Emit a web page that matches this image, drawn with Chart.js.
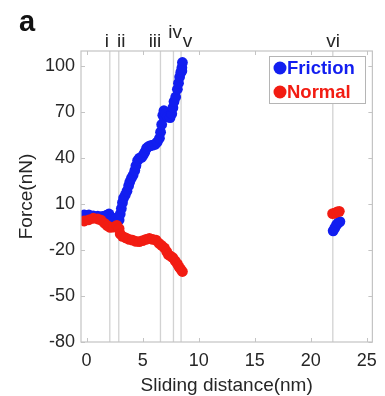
<!DOCTYPE html>
<html>
<head>
<meta charset="utf-8">
<script src="https://cdn.jsdelivr.net/npm/chart.js@4.4.1/dist/chart.umd.min.js"></script>
<style>
  html, body { margin: 0; padding: 0; background: #fff; }
  #wrap { width: 385px; height: 396px; position: relative; }
</style>
</head>
<body>
<div id="wrap"><canvas id="forceChart"></canvas></div>
<script>
// values
const frictionX = [-0.2, 0.2, 0.6, 1.0, 1.4, 1.8, 2.0, 2.3, 2.6, 2.9, 3.0, 3.1, 3.2, 3.3, 3.45, 3.6, 3.75, 3.85, 4.0, 4.15, 4.3, 4.4, 4.55, 4.7, 4.9, 5.05, 5.2, 5.35, 5.5, 5.7, 5.9, 6.1, 6.3, 6.5, 6.6, 6.7, 6.8, 6.9, 7.05, 7.25, 7.45, 7.6, 7.7, 7.8, 7.95, 8.1, 8.2, 8.3, 8.4, 8.5, 8.55, 8.5, 22.0, 22.15, 22.3, 22.45, 22.6];
const frictionY = [3.0, 3.0, 2.4, 2.2, 2.0, 2.8, 3.6, 1.0, 0.5, -0.3, 3.5, 7.2, 11, 14, 16, 18.5, 22, 24.5, 27, 29, 32, 35, 38.5, 40, 40.5, 42, 44, 46.5, 47.5, 48.2, 48.5, 49, 50.5, 53, 57, 62, 68, 71, 69, 67, 66.5, 69, 73, 77, 80, 85, 89, 93, 96, 99, 102.5, 97, -7.4, -5.5, -3.5, -2.2, -1.4];

const normalX = [-0.2, 0.2, 0.6, 1.0, 1.3, 1.6, 1.85, 2.1, 2.4, 2.7, 2.9, 3.0, 3.2, 3.5, 3.8, 4.1, 4.4, 4.7, 5.0, 5.3, 5.6, 5.9, 6.2, 6.45, 6.7, 6.95, 7.15, 7.3, 7.5, 7.7, 7.9, 8.1, 8.25, 8.4, 8.55, 21.95, 22.15, 22.35, 22.55];
const normalY = [-1.0, -0.2, 0.8, 0.3, -0.5, -2.5, -4, -5.2, -5, -3.8, -6, -9.5, -11, -12, -13, -13.5, -14.3, -14.5, -13.8, -13, -12.3, -13, -13.5, -15.5, -17, -18.6, -21, -23, -24, -25, -27, -29, -31, -32.5, -34, 3.8, 4.2, 4.9, 5.3];

const markerX = [2.07, 2.87, 6.59, 7.75, 8.43, 21.97];
const markerNames = ['i', 'ii', 'iii', 'iv', 'v', 'vi'];
const markerLabelX = [1.8, 3.1, 6.1, 7.9, 9.0, 22.0];

const xTicks = [0, 5, 10, 15, 20, 25];
const yTicks = [-80, -50, -20, 10, 40, 70, 100];

const seriesNames = ['Friction', 'Normal'];
const seriesColors = ['rgb(18,30,240)', 'rgb(242,28,18)'];

const FONT = '"Liberation Sans", Arial, Helvetica, sans-serif';
const TEXT = '#262626';

function toPoints(xs, ys) {
  return xs.map((x, i) => ({ x, y: ys[i] }));
}

function markerLines() {
  return markerX.map((x) => ({
    type: 'line',
    data: [{ x, y: -80 }, { x, y: 110 }],
    borderColor: '#d2d2d2',
    borderWidth: 1.3,
    pointRadius: 0,
    order: 10,
  }));
}

// MATLAB-like box, inward ticks, roman labels, panel letter and inside legend
const decorPlugin = {
  id: 'decor',
  beforeDatasetsDraw(chart) {
    const { ctx, chartArea: a, scales } = chart;
    ctx.save();
    ctx.strokeStyle = '#c4c4c4';
    ctx.lineWidth = 1;
    ctx.beginPath();
    xTicks.forEach((t) => {
      const px = Math.round(scales.x.getPixelForValue(t)) + 0.5;
      ctx.moveTo(px, a.bottom); ctx.lineTo(px, a.bottom - 4);
      ctx.moveTo(px, a.top); ctx.lineTo(px, a.top + 4);
    });
    yTicks.forEach((t) => {
      const py = Math.round(scales.y.getPixelForValue(t)) + 0.5;
      ctx.moveTo(a.left, py); ctx.lineTo(a.left + 4, py);
      ctx.moveTo(a.right, py); ctx.lineTo(a.right - 4, py);
    });
    ctx.stroke();
    ctx.restore();
  },
  afterDraw(chart) {
    const { ctx, chartArea: a, scales } = chart;
    ctx.save();
    ctx.strokeStyle = '#c4c4c4';
    ctx.lineWidth = 1.2;
    ctx.strokeRect(a.left, a.top, a.right - a.left, a.bottom - a.top);

    ctx.fillStyle = TEXT;
    ctx.font = '19px ' + FONT;
    ctx.textAlign = 'center';
    ctx.textBaseline = 'alphabetic';
    markerNames.forEach((name, i) => {
      const px = scales.x.getPixelForValue(markerLabelX[i]);
      ctx.fillText(name, px, name === 'iv' ? 38 : 47);
    });

    ctx.font = 'bold 29px ' + FONT;
    ctx.textAlign = 'left';
    ctx.fillStyle = '#111';
    ctx.fillText('a', 19, 31);

    // legend box
    const lx = 269, ly = 56, lw = 96, lh = 47;
    ctx.fillStyle = '#fff';
    ctx.fillRect(lx, ly, lw, lh);
    ctx.strokeStyle = '#b5b5b5';
    ctx.lineWidth = 1;
    ctx.strokeRect(lx + 0.5, ly + 0.5, lw, lh);
    ctx.font = 'bold 18.5px ' + FONT;
    ctx.textBaseline = 'middle';
    seriesNames.forEach((name, i) => {
      const cy = ly + 12 + i * 24;
      ctx.fillStyle = seriesColors[i];
      ctx.beginPath();
      ctx.arc(lx + 11, cy, 6.5, 0, Math.PI * 2);
      ctx.fill();
      ctx.fillText(name, lx + 18, cy + 1);
    });
    ctx.restore();
  },
};

const ctx = document.getElementById('forceChart');

new Chart(ctx, {
  type: 'scatter',
  data: {
    datasets: [
      {
        label: seriesNames[0],
        data: toPoints(frictionX, frictionY),
        backgroundColor: seriesColors[0],
        borderWidth: 0,
        pointRadius: 5.4,
        order: 2,
      },
      {
        label: seriesNames[1],
        data: toPoints(normalX, normalY),
        backgroundColor: seriesColors[1],
        borderWidth: 0,
        pointRadius: 5.4,
        order: 1,
      },
      ...markerLines(),
    ],
  },
  options: {
    responsive: true,
    maintainAspectRatio: false,
    animation: false,
    layout: { padding: { top: 51, right: 11, left: 0, bottom: 0 } },
    plugins: {
      legend: { display: false },
      tooltip: { enabled: false },
    },
    scales: {
      x: {
        type: 'linear',
        min: -0.5,
        max: 25.5,
        afterBuildTicks: (s) => { s.ticks = xTicks.map((v) => ({ value: v })); },
        afterFit: (s) => { s.height = 54; },
        grid: { display: false, drawTicks: false },
        border: { display: false },
        ticks: { color: TEXT, font: { family: FONT, size: 18 }, padding: 8, maxRotation: 0 },
        title: {
          display: true,
          text: 'Sliding distance(nm)',
          color: TEXT,
          font: { family: FONT, size: 19 },
          padding: { top: 0, bottom: -1 },
        },
      },
      y: {
        type: 'linear',
        min: -80,
        max: 110,
        afterBuildTicks: (s) => { s.ticks = yTicks.map((v) => ({ value: v })); },
        afterFit: (s) => { s.width = 81; },
        grid: { display: false, drawTicks: false },
        border: { display: false },
        ticks: { color: TEXT, font: { family: FONT, size: 18 }, padding: 6 },
        title: {
          display: true,
          text: 'Force(nN)',
          color: TEXT,
          font: { family: FONT, size: 19 },
          padding: { top: 15, bottom: 0 },
        },
      },
    },
  },
  plugins: [decorPlugin],
});
</script>
</body>
</html>
